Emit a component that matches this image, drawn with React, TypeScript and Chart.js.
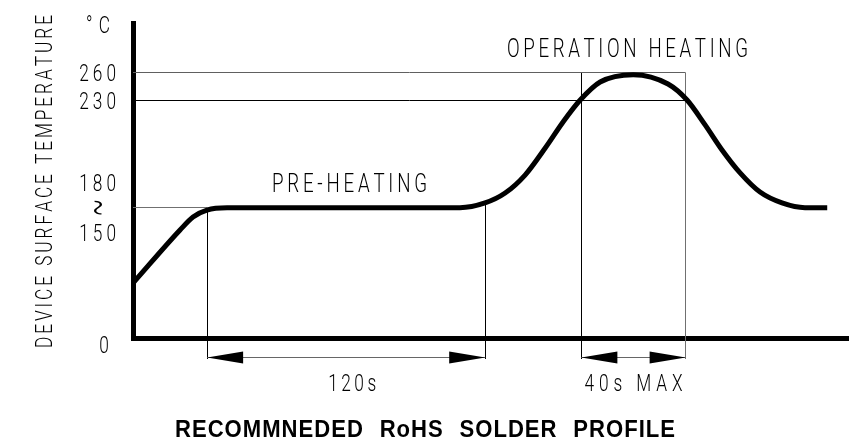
import React, { useEffect, useRef } from 'react';
import { Chart, LineController, LineElement, PointElement, LinearScale } from 'chart.js';

// ---- data ----
const timeS = [0, 20.3, 25.9, 31.9, 40.6, 141.1, 151.9, 160.6, 169.2, 177.9, 185.6, 193.0, 201.6, 215.9, 230.9, 239.1, 246.9, 254.2, 262.0, 270.6, 280.1, 290.0, 299.6];
const tempC = [78, 151.5, 159.4, 163.6, 165, 165, 167.9, 173.9, 184.8, 201.2, 217.0, 230.5, 250.2, 258.2, 248.0, 230.5, 215.2, 200.0, 186.1, 174.5, 167.9, 165, 165];

const yTickValues = [0, 150, 165, 180, 230, 260];
const yTickLabels = ['0', '150', '~', '180', '230', '260'];
const yUnit = '\u00B0C';
const yAxisTitle = 'DEVICE SURFACE TEMPERATURE';
const chartTitleWords = ['RECOMMNEDED', 'RoHS', 'SOLDER', 'PROFILE'];

const preheatSpan = [32, 152];
const preheatTemp = 165;
const preheatLabel = '120s';
const preheatZone = 'PRE-HEATING';
const peakSpan = [193.5, 238.5];
const peakTemps = [230, 260];
const peakLabel = '40s MAX';
const peakZone = 'OPERATION HEATING';

// schematic (non-linear) temperature axis: value knots and their share of the axis height
const yKnotValues = [0, 150, 230, 260, 315];
const yKnotDecimals = [0, 0.33492, 0.75397, 0.84127, 1];

function interp(xs: number[], ys: number[], v: number) {
  if (v <= xs[0]) return ys[0];
  for (let i = 1; i < xs.length; i++) {
    if (v <= xs[i]) {
      const f = (v - xs[i - 1]) / (xs[i] - xs[i - 1]);
      return ys[i - 1] + f * (ys[i] - ys[i - 1]);
    }
  }
  return ys[ys.length - 1];
}

class PiecewiseScale extends (LinearScale as any) {
  static id = 'piecewise';
  static defaults = { ...(LinearScale as any).defaults };
  getPixelForValue(value: any) {
    if (value === null || value === undefined || isNaN(value)) return NaN;
    return (this as any).getPixelForDecimal(interp(yKnotValues, yKnotDecimals, value));
  }
  getValueForPixel(pixel: number) {
    const d = (this as any).getDecimalForPixel(pixel);
    return interp(yKnotDecimals, yKnotValues, d);
  }
}

Chart.register(LineController, LineElement, PointElement, LinearScale, PiecewiseScale as any);

const THIN = (s: number) => `300 ${s}px Roboto, "DejaVu Sans", sans-serif`;

function drawSpaced(ctx: CanvasRenderingContext2D, text: string, x: number, baseline: number, opts: { width?: number; gap?: number; align?: 'left' | 'center' | 'right'; sx?: number }) {
  const sx = opts.sx ?? 1;
  const chars = Array.from(text);
  const ws = chars.map((c) => ctx.measureText(c).width * sx);
  const total = ws.reduce((a, b) => a + b, 0);
  let gap = opts.gap ?? 0;
  if (opts.width !== undefined && chars.length > 1) gap = (opts.width - total) / (chars.length - 1);
  const used = total + gap * (chars.length - 1);
  const align = opts.align ?? 'left';
  let cx = align === 'left' ? x : align === 'right' ? x - used : x - used / 2;
  ctx.textAlign = 'left';
  ctx.textBaseline = 'alphabetic';
  chars.forEach((c, i) => {
    if (c !== ' ') {
      ctx.save();
      ctx.translate(cx, baseline);
      ctx.scale(sx, 1);
      ctx.fillText(c, 0, 0);
      ctx.restore();
    }
    cx += ws[i] + gap;
  });
  return used;
}

const annotations = {
  id: 'solderAnnotations',
  beforeDatasetsDraw(chart: any) {
    const { ctx, chartArea } = chart;
    const X = (v: number) => chart.scales.x.getPixelForValue(v);
    const Y = (v: number) => chart.scales.y.getPixelForValue(v);
    const c = (p: number) => Math.round(p - 0.5) + 0.5;
    ctx.save();
    ctx.lineWidth = 1;
    const hline = (y: number, x1: number, x2: number, col: string) => {
      ctx.strokeStyle = col; ctx.beginPath(); ctx.moveTo(x1, c(y)); ctx.lineTo(x2, c(y)); ctx.stroke();
    };
    const vline = (x: number, y1: number, y2: number, col: string) => {
      ctx.strokeStyle = col; ctx.beginPath(); ctx.moveTo(c(x), y1); ctx.lineTo(c(x), y2); ctx.stroke();
    };
    const extY = chartArea.bottom + 21;
    hline(Y(peakTemps[1]), X(0), X(peakSpan[1]), '#606060');
    hline(Y(peakTemps[0]), X(0), X(peakSpan[1]), '#000');
    hline(Y(preheatTemp), X(0), X(preheatSpan[0]), '#707070');
    vline(X(preheatSpan[0]), Y(preheatTemp), extY, '#000');
    vline(X(preheatSpan[1]), Y(interp(timeS, tempC, preheatSpan[1])), extY, '#000');
    vline(X(peakSpan[0]), Y(peakTemps[1]), extY, '#000');
    vline(X(peakSpan[1]), Y(peakTemps[1]), extY, '#707070');
    ctx.restore();
  },
  afterDraw(chart: any) {
    const { ctx, chartArea } = chart;
    const X = (v: number) => chart.scales.x.getPixelForValue(v);
    const Y = (v: number) => chart.scales.y.getPixelForValue(v);
    ctx.save();
    // dimension lines with arrows
    const dimY = Math.round(chartArea.bottom + 19) + 0.5;
    const arrowLen = 36, arrowHalf = 6;
    const dim = (a: number, b: number) => {
      const xa = X(a), xb = X(b);
      ctx.strokeStyle = '#666'; ctx.lineWidth = 1;
      ctx.beginPath(); ctx.moveTo(xa, dimY); ctx.lineTo(xb, dimY); ctx.stroke();
      ctx.fillStyle = '#000';
      ctx.beginPath(); ctx.moveTo(xa, dimY); ctx.lineTo(xa + arrowLen, dimY - arrowHalf); ctx.lineTo(xa + arrowLen, dimY + arrowHalf); ctx.closePath(); ctx.fill();
      ctx.beginPath(); ctx.moveTo(xb, dimY); ctx.lineTo(xb - arrowLen, dimY - arrowHalf); ctx.lineTo(xb - arrowLen, dimY + arrowHalf); ctx.closePath(); ctx.fill();
    };
    dim(preheatSpan[0], preheatSpan[1]);
    dim(peakSpan[0], peakSpan[1]);

    ctx.fillStyle = '#000';
    // tick labels
    ctx.font = THIN(24);
    yTickValues.forEach((v, i) => {
      const lab = yTickLabels[i];
      const y = Y(v);
      if (lab === '~') {
        ctx.save();
        ctx.translate(96, y);
        ctx.rotate(Math.PI / 2);
        ctx.scale(0.9, 1.6);
        ctx.font = THIN(28);
        ctx.textAlign = 'center';
        ctx.textBaseline = 'middle';
        ctx.fillText(lab, 0, 0);
        ctx.restore();
      } else if (v === 0) {
        drawSpaced(ctx, lab, 104, y + 15, { align: 'center', sx: 0.72 });
      } else {
        drawSpaced(ctx, lab, 116, y + 8.5, { gap: 4, align: 'right', sx: 0.72 });
      }
    });
    // unit
    drawSpaced(ctx, yUnit, 86, 33, { width: 24, align: 'left', sx: 0.72 });
    // y axis title (rotated)
    ctx.save();
    ctx.translate(52, 348);
    ctx.rotate(-Math.PI / 2);
    drawSpaced(ctx, yAxisTitle, 0, 0, { width: 333, align: 'left', sx: 0.72 });
    ctx.restore();
    // zone labels
    ctx.font = THIN(26);
    drawSpaced(ctx, preheatZone, 272, Y(preheatTemp) - 15.5, { width: 155, align: 'left', sx: 0.72 });
    drawSpaced(ctx, peakZone, 507, Y(peakTemps[1]) - 16, { width: 241, align: 'left', sx: 0.72 });
    // dimension labels
    ctx.font = THIN(24);
    drawSpaced(ctx, preheatLabel, (X(preheatSpan[0]) + X(preheatSpan[1])) / 2 + 6, chartArea.bottom + 53, { width: 48, align: 'center', sx: 0.72 });
    drawSpaced(ctx, peakLabel, (X(peakSpan[0]) + X(peakSpan[1])) / 2, chartArea.bottom + 53, { width: 98, align: 'center', sx: 0.72 });
    // title
    ctx.font = 'bold 24px "Liberation Sans", Arial, sans-serif';
    const sx = 0.92, letterGap = 1;
    const wordWidths = chartTitleWords.map((w) => Array.from(w).reduce((a, ch) => a + ctx.measureText(ch).width * sx, 0) + letterGap * (w.length - 1));
    const totalW = 500;
    const wordGap = (totalW - wordWidths.reduce((a, b) => a + b, 0)) / (chartTitleWords.length - 1);
    let tx = 175;
    chartTitleWords.forEach((w, i) => {
      drawSpaced(ctx, w, tx, 437, { gap: letterGap, align: 'left', sx });
      tx += wordWidths[i] + wordGap;
    });
    ctx.restore();
  },
};

export default function App() {
  const ref = useRef<HTMLCanvasElement>(null);
  useEffect(() => {
    const chart = new Chart(ref.current as HTMLCanvasElement, {
      type: 'line',
      data: {
        datasets: [
          {
            data: timeS.map((t, i) => ({ x: t, y: tempC[i] })),
            borderColor: '#000',
            borderWidth: 5,
            pointRadius: 0,
            cubicInterpolationMode: 'monotone',
            fill: false,
            clip: false,
            borderJoinStyle: 'round',
          } as any,
        ],
      },
      options: {
        animation: false,
        responsive: true,
        maintainAspectRatio: false,
        events: [],
        layout: { padding: { left: 133, top: 23, right: 0, bottom: 103 } },
        scales: {
          x: {
            type: 'linear',
            min: 0,
            max: 309,
            grid: { display: false, drawTicks: false },
            ticks: { display: false },
            border: { display: true, width: 5, color: '#000' },
            afterFit: (s: any) => { s.height = 0; },
          },
          y: {
            type: 'piecewise' as any,
            min: 0,
            max: 315,
            grid: { display: false, drawTicks: false },
            ticks: { display: false },
            border: { display: true, width: 5, color: '#000' },
            afterFit: (s: any) => { s.width = 0; },
          },
        } as any,
      },
      plugins: [annotations as any],
    });
    return () => chart.destroy();
  }, []);
  return (
    <div style={{ position: 'absolute', left: 0, top: 0, width: 849, height: 441, background: '#fff' }}>
      <canvas ref={ref} />
    </div>
  );
}
